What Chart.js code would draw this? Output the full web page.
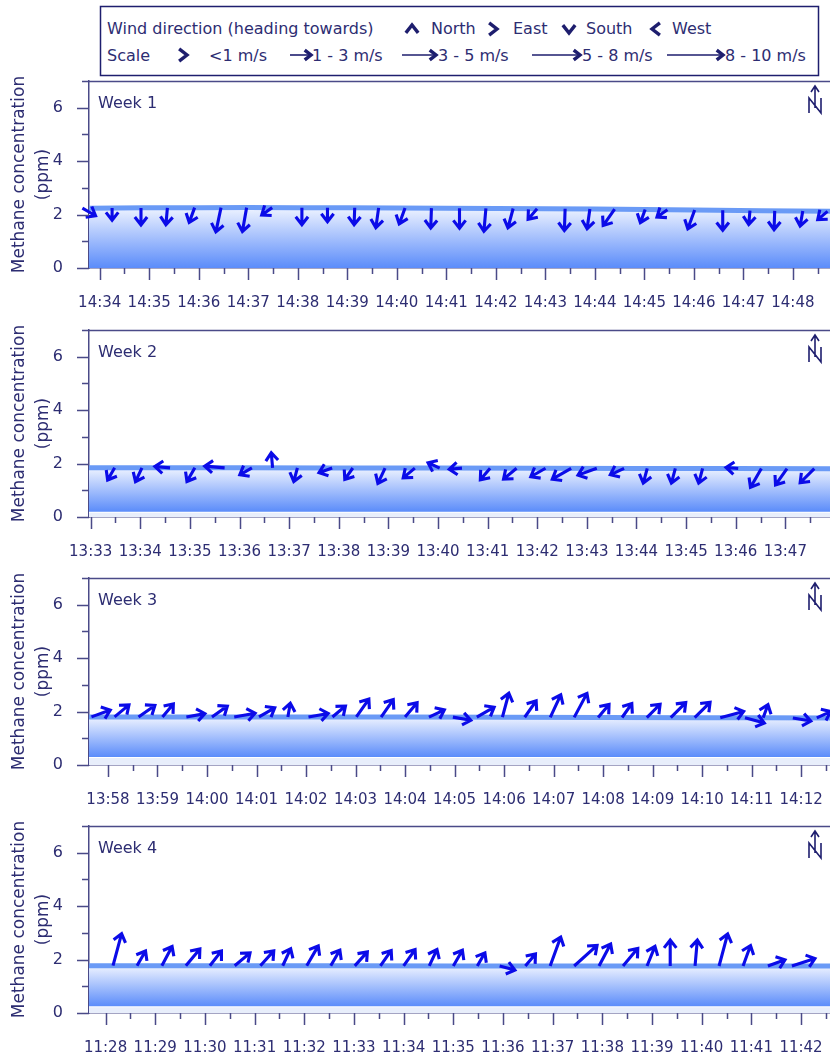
<!DOCTYPE html>
<html><head><meta charset="utf-8">
<script src="https://cdn.jsdelivr.net/npm/chart.js@4.4.1/dist/chart.umd.min.js"></script>
<style>
html,body{margin:0;padding:0;background:#fff;}
body{width:830px;height:1060px;overflow:hidden;position:relative;font-family:'DejaVu Sans',sans-serif;}
.panel{position:absolute;left:0;width:830px;height:245px;}
#legend{position:absolute;left:0;top:0;}
</style></head><body>
<svg id="legend" width="830" height="80"></svg>
<div class="panel" style="top:73px"><canvas id="c0" width="830" height="245"></canvas></div>
<div class="panel" style="top:322px"><canvas id="c1" width="830" height="245"></canvas></div>
<div class="panel" style="top:570px"><canvas id="c2" width="830" height="245"></canvas></div>
<div class="panel" style="top:818px"><canvas id="c3" width="830" height="245"></canvas></div>
<script>
// ---------------- DATA ----------------
const weekNames = ['Week 1','Week 2','Week 3','Week 4'];
const yTickValues = [0,2,4,6];
const yMinorValues = [1,3,5,7];
const yMax = 7;
const floorLevels = [0, 0.2, 0.3, 0.25];

// Week 1
const w1Range = ['14:33:47','14:48:45'];
const w1TickLabels = ['14:34','14:35','14:36','14:37','14:38','14:39','14:40','14:41','14:42','14:43','14:44','14:45','14:46','14:47','14:48'];
const w1ConcTimes = ['14:33:47','14:36:00','14:38:00','14:40:00','14:42:00','14:44:00','14:46:00','14:48:45'];
const w1Conc = [2.24,2.26,2.26,2.25,2.23,2.21,2.17,2.12];
const w1WindTimes = ['14:33:39','14:34:15','14:34:50','14:35:22','14:35:55','14:36:27','14:36:58','14:37:29','14:38:05','14:38:36','14:39:09','14:39:38','14:40:10','14:40:42','14:41:16','14:41:48','14:42:21','14:42:50','14:43:24','14:43:54','14:44:24','14:45:01','14:45:28','14:46:01','14:46:35','14:47:08','14:47:38','14:48:12','14:48:42'];
const w1WindDir = [120,180,180,185,200,192,190,235,180,180,182,188,200,182,180,185,195,220,182,188,215,200,235,200,180,185,182,190,230];
const w1WindSpeed = [1.2,0.7,1.5,1.5,1.3,2.8,2.7,0.8,1.5,1.0,1.5,2.0,1.5,2.0,2.0,2.5,2.0,1.0,2.3,2.0,2.0,1.0,0.8,2.0,2.0,1.0,1.8,1.2,0.8];

// Week 2
const w2Range = ['13:32:58','13:47:54'];
const w2TickLabels = ['13:33','13:34','13:35','13:36','13:37','13:38','13:39','13:40','13:41','13:42','13:43','13:44','13:45','13:46','13:47'];
const w2ConcTimes = ['13:32:58','13:36:00','13:40:00','13:44:00','13:47:54'];
const w2Conc = [1.84,1.84,1.83,1.82,1.81];
const w2WindTimes = ['13:33:29','13:34:02','13:34:36','13:35:06','13:35:42','13:36:15','13:36:40','13:37:10','13:37:52','13:38:17','13:38:56','13:39:32','13:40:02','13:40:29','13:41:03','13:41:35','13:42:10','13:42:41','13:43:12','13:43:45','13:44:13','13:44:47','13:45:20','13:46:03','13:46:31','13:47:02','13:47:35'];
const w2WindDir = [210,205,275,210,275,240,355,195,250,215,205,230,295,265,220,230,240,240,250,245,195,195,195,275,210,215,225];
const w2WindSpeed = [1.0,1.2,1.2,1.3,2.0,1.0,1.2,1.0,1.0,1.0,1.5,1.2,0.8,0.8,1.2,1.5,1.5,2.3,2.0,1.2,1.2,1.2,1.2,0.7,2.3,2.0,2.0];

// Week 3
const w3Range = ['13:57:37','14:12:35'];
const w3TickLabels = ['13:58','13:59','14:00','14:01','14:02','14:03','14:04','14:05','14:06','14:07','14:08','14:09','14:10','14:11','14:12'];
const w3ConcTimes = ['13:57:37','14:02:00','14:06:00','14:10:00','14:12:35'];
const w3Conc = [1.80,1.80,1.79,1.77,1.76];
const w3WindTimes = ['13:57:40','13:58:08','13:58:37','13:59:06','13:59:35','14:00:06','14:00:33','14:01:03','14:01:38','14:02:03','14:02:32','14:03:01','14:03:31','14:04:00','14:04:29','14:04:58','14:05:27','14:05:58','14:06:25','14:06:56','14:07:25','14:07:54','14:08:23','14:08:53','14:09:22','14:09:51','14:10:22','14:10:52','14:11:14','14:11:50','14:12:19'];
const w3WindDir = [70,50,55,40,80,55,80,60,10,80,50,35,35,40,65,100,60,15,35,25,28,40,35,45,45,45,75,105,20,100,65];
const w3WindSpeed = [2.0,1.8,2.0,1.5,1.8,1.8,2.2,1.7,1.0,2.0,1.5,2.3,2.2,1.8,1.5,1.7,2.0,2.8,2.0,2.8,3.2,1.5,1.5,1.8,2.2,2.3,2.7,2.0,1.0,1.7,1.2];

// Week 4
const w4Range = ['11:27:40','11:42:35'];
const w4TickLabels = ['11:28','11:29','11:30','11:31','11:32','11:33','11:34','11:35','11:36','11:37','11:38','11:39','11:40','11:41','11:42'];
const w4ConcTimes = ['11:27:40','11:31:00','11:35:00','11:39:00','11:42:35'];
const w4Conc = [1.77,1.77,1.76,1.76,1.76];
const w4WindTimes = ['11:28:09','11:28:38','11:29:08','11:29:37','11:30:06','11:30:36','11:31:07','11:31:34','11:32:03','11:32:32','11:33:01','11:33:32','11:34:00','11:34:31','11:35:00','11:35:29','11:35:56','11:36:27','11:36:57','11:37:26','11:37:56','11:38:25','11:38:54','11:39:22','11:39:52','11:40:21','11:40:50','11:41:20','11:41:49'];
const w4WindDir = [15,30,28,40,38,50,42,25,30,30,42,35,35,25,30,30,105,40,20,48,28,40,22,0,5,15,20,70,72];
const w4WindSpeed = [4.2,1.5,2.3,2.3,1.8,2.0,2.0,1.8,2.5,1.7,1.8,1.8,2.0,1.7,1.7,1.2,1.3,1.3,3.8,3.8,2.8,2.5,2.2,3.0,3.0,4.2,2.3,1.7,2.7];

// legend content
const dirLegend = [['North',0],['East',90],['South',180],['West',270]];
const scaleLegend = ['<1 m/s','1 - 3 m/s','3 - 5 m/s','5 - 8 m/s','8 - 10 m/s'];

// ---------------- HELPERS ----------------
const toMin = s => { const p = s.split(':').map(Number); return p[0]*60 + p[1] + (p[2]||0)/60; };
const interp = (ts, vs, t) => {
  if (t <= ts[0]) return vs[0];
  for (let i=1;i<ts.length;i++){ if (t<=ts[i]) { const f=(t-ts[i-1])/(ts[i]-ts[i-1]); return vs[i-1]+f*(vs[i]-vs[i-1]); } }
  return vs[vs.length-1];
};
const TEXT = '#2d2d72', AXIS = '#4a4a88', ARROW = '#0b0be8', NAVY = '#1e1e6e';
const FONT = "'DejaVu Sans', sans-serif";
const HEAD = 10, HEADANG = 38*Math.PI/180;
const arrowLen = s => Math.max(HEAD+1, 8 + 6*s);

function arrowGeom(x0,y0,deg,L,head){
  head = head || HEAD;
  const th = deg*Math.PI/180, dx=Math.sin(th), dy=-Math.cos(th);
  const tx=x0+dx*L, ty=y0+dy*L;
  const bx=-dx, by=-dy;
  const a1=[tx+head*(bx*Math.cos(HEADANG)-by*Math.sin(HEADANG)), ty+head*(bx*Math.sin(HEADANG)+by*Math.cos(HEADANG))];
  const a2=[tx+head*(bx*Math.cos(-HEADANG)-by*Math.sin(-HEADANG)), ty+head*(bx*Math.sin(-HEADANG)+by*Math.cos(-HEADANG))];
  return {tail:[x0,y0], tip:[tx,ty], a1, a2, shaft: L>head+1};
}
function drawArrow(ctx,x0,y0,deg,L){
  const g = arrowGeom(x0,y0,deg,L);
  ctx.beginPath();
  if (g.shaft){ ctx.moveTo(g.tail[0],g.tail[1]); ctx.lineTo(g.tip[0],g.tip[1]); }
  ctx.moveTo(g.a1[0],g.a1[1]); ctx.lineTo(g.tip[0],g.tip[1]); ctx.lineTo(g.a2[0],g.a2[1]);
  ctx.stroke();
}

// ---------------- LEGEND (SVG) ----------------
(function(){
  const svg = document.getElementById('legend');
  let s = `<rect x="100.5" y="6.5" width="718" height="69" fill="none" stroke="${NAVY}" stroke-width="1.5"/>`;
  const txt = (x,y,t)=> `<text x="${x}" y="${y}" font-family="DejaVu Sans" font-size="16" fill="${TEXT}" dominant-baseline="central">${t.replace('<','&lt;')}</text>`;
  const arr = (x0,y0,deg,L,hd)=>{ const g=arrowGeom(x0,y0,deg,L,hd||8); let p='';
    if(g.shaft) p+=`<line x1="${g.tail[0]}" y1="${g.tail[1]}" x2="${g.tip[0]}" y2="${g.tip[1]}" stroke="${NAVY}" stroke-width="1.6"/>`;
    p+=`<polyline points="${g.a1.join(',')} ${g.tip.join(',')} ${g.a2.join(',')}" fill="none" stroke="${NAVY}" stroke-width="3.4"/>`; return p; };
  s += txt(107,28,'Wind direction (heading towards)');
  const dirX = [[412,431],[493,513],[569,586],[656,672]];
  dirLegend.forEach((d,i)=>{
    const [cx,tx]=dirX[i]; const th=d[1]*Math.PI/180;
    const tipx = cx + Math.sin(th)*4, tipy = 29 - Math.cos(th)*4;
    s += arr(tipx - Math.sin(th)*10, tipy + Math.cos(th)*10, d[1], 10, 10);
    s += txt(tx,28,d[0]);
  });
  s += txt(107,55,'Scale');
  const sc = [[176,187,209],[290,311,312],[402,436,438],[532,580,582],[667,723,725]];
  sc.forEach((c,i)=>{ s += i===0 ? arr(c[0],55,90,c[1]-c[0],10) : arr(c[0],55,90,c[1]-c[0]); s += txt(c[2],55,scaleLegend[i]); });
  svg.innerHTML = s;
})();

// ---------------- CHARTS ----------------
const weeks = [
  {range:w1Range, ticks:w1TickLabels, ct:w1ConcTimes, cv:w1Conc, wt:w1WindTimes, wd:w1WindDir, ws:w1WindSpeed},
  {range:w2Range, ticks:w2TickLabels, ct:w2ConcTimes, cv:w2Conc, wt:w2WindTimes, wd:w2WindDir, ws:w2WindSpeed},
  {range:w3Range, ticks:w3TickLabels, ct:w3ConcTimes, cv:w3Conc, wt:w3WindTimes, wd:w3WindDir, ws:w3WindSpeed},
  {range:w4Range, ticks:w4TickLabels, ct:w4ConcTimes, cv:w4Conc, wt:w4WindTimes, wd:w4WindDir, ws:w4WindSpeed},
];

weeks.forEach((w,k)=>{
  const xmin = toMin(w.range[0]), xmax = toMin(w.range[1]);
  const ctm = w.ct.map(toMin);
  const floor = floorLevels[k];
  const concMax = Math.max(...w.cv);
  const datasets = [];
  datasets.push({
    data: ctm.map((t,i)=>({x:t,y:w.cv[i]})),
    borderColor:'#6a9af6', borderWidth:5, pointRadius:0, tension:0.4,
    fill: {value: floor}, order: 1,
    backgroundColor: (c)=>{
      const ch=c.chart; if(!ch.chartArea) return '#a9c3ff';
      const y=ch.scales.y; const g=ch.ctx.createLinearGradient(0,y.getPixelForValue(concMax),0,y.getPixelForValue(floor));
      g.addColorStop(0,'#eef3ff'); g.addColorStop(1,'#5b8cfa'); return g;
    }
  });
  if (floor>0) datasets.push({
    data:[{x:xmin,y:floor},{x:xmax,y:floor}], borderColor:'#ffffff', borderWidth:2, pointRadius:0,
    fill:'origin', backgroundColor:'#e8eefb', order: 2
  });

  const decor = {
    id:'decor'+k,
    afterDatasetsDraw(chart){
      const {ctx, scales:{x,y}} = chart;
      ctx.save();
      ctx.strokeStyle = ARROW; ctx.lineWidth = 3.1; ctx.lineJoin='miter'; ctx.lineCap='butt';
      w.wt.forEach((t,i)=>{
        const tm=toMin(t);
        const px=x.getPixelForValue(tm), py=y.getPixelForValue(interp(ctm,w.cv,tm));
        drawArrow(ctx,px,py,w.wd[i],arrowLen(w.ws[i]));
      });
      ctx.restore();
    },
    afterDraw(chart){
      const {ctx, chartArea:a, scales:{x,y}} = chart;
      ctx.save();
      ctx.strokeStyle = AXIS; ctx.lineWidth = 1.5;
      ctx.beginPath();
      yTickValues.forEach(v=>{ const p=Math.round(y.getPixelForValue(v))+0.5; ctx.moveTo(a.left-12,p); ctx.lineTo(a.left,p); });
      yMinorValues.forEach(v=>{ const p=Math.round(y.getPixelForValue(v))+0.5; ctx.moveTo(a.left-7,p); ctx.lineTo(a.left,p); });
      w.ticks.forEach(l=>{ const m=toMin(l);
        const p=Math.round(x.getPixelForValue(m))+0.5; ctx.moveTo(p,a.bottom); ctx.lineTo(p,a.bottom+12);
        [m-0.5,m+0.5].forEach(h=>{ if(h>xmin && h<xmax){ const q=Math.round(x.getPixelForValue(h))+0.5; ctx.moveTo(q,a.bottom); ctx.lineTo(q,a.bottom+6);} });
      });
      ctx.moveTo(a.left-7,a.top+0.5); ctx.lineTo(a.right,a.top+0.5);
      ctx.stroke();
      // week label
      ctx.fillStyle = TEXT; ctx.font = `16px ${FONT}`; ctx.textBaseline='middle'; ctx.textAlign='left';
      ctx.fillText(weekNames[k], a.left+9, a.top+23);
      // north symbol
      const nx = 815, nt = a.top;
      ctx.strokeStyle = NAVY; ctx.lineWidth = 1.6;
      ctx.beginPath();
      ctx.moveTo(nx-6,nt+32); ctx.lineTo(nx-6,nt+17); ctx.lineTo(nx+6,nt+32); ctx.lineTo(nx+6,nt+17);
      ctx.moveTo(nx,nt+27); ctx.lineTo(nx,nt+6);
      ctx.moveTo(nx-4,nt+11); ctx.lineTo(nx,nt+5); ctx.lineTo(nx+4,nt+11);
      ctx.stroke();
      ctx.restore();
    }
  };

  new Chart(document.getElementById('c'+k), {
    type:'line',
    data:{datasets},
    options:{
      responsive:false, animation:false, devicePixelRatio:1,
      layout:{padding:{top:8,left:0,right:0,bottom:0}},
      plugins:{legend:{display:false}, tooltip:{enabled:false}},
      scales:{
        x:{type:'linear', min:xmin, max:xmax,
          afterBuildTicks:(s)=>{ s.ticks = w.ticks.map(l=>({value:toMin(l)})); },
          afterFit:(s)=>{ s.height = 50; s.paddingLeft = 0; s.paddingRight = 0; },
          grid:{display:false, drawTicks:false},
          border:{display:true, color:AXIS, width:1.5},
          ticks:{autoSkip:false, maxRotation:0, padding:26, color:TEXT, font:{family:FONT,size:15},
            callback:(v,i)=> w.ticks[i]}
        },
        y:{min:0, max:yMax,
          afterBuildTicks:(s)=>{ s.ticks = yTickValues.map(v=>({value:v})); },
          afterFit:(s)=>{ s.width = 89; s.paddingTop = 0; s.paddingBottom = 0; },
          grid:{display:false, drawTicks:false},
          border:{display:true, color:AXIS, width:1.5},
          ticks:{padding:26, color:TEXT, font:{family:FONT,size:16}, callback:(v)=>String(v)},
          title:{display:true, text:['Methane concentration','(ppm)'], color:TEXT,
            font:{family:FONT,size:17,lineHeight:1.4}, padding:{top:8,bottom:0}}
        }
      }
    },
    plugins:[decor]
  });
});
</script>
</body></html>
